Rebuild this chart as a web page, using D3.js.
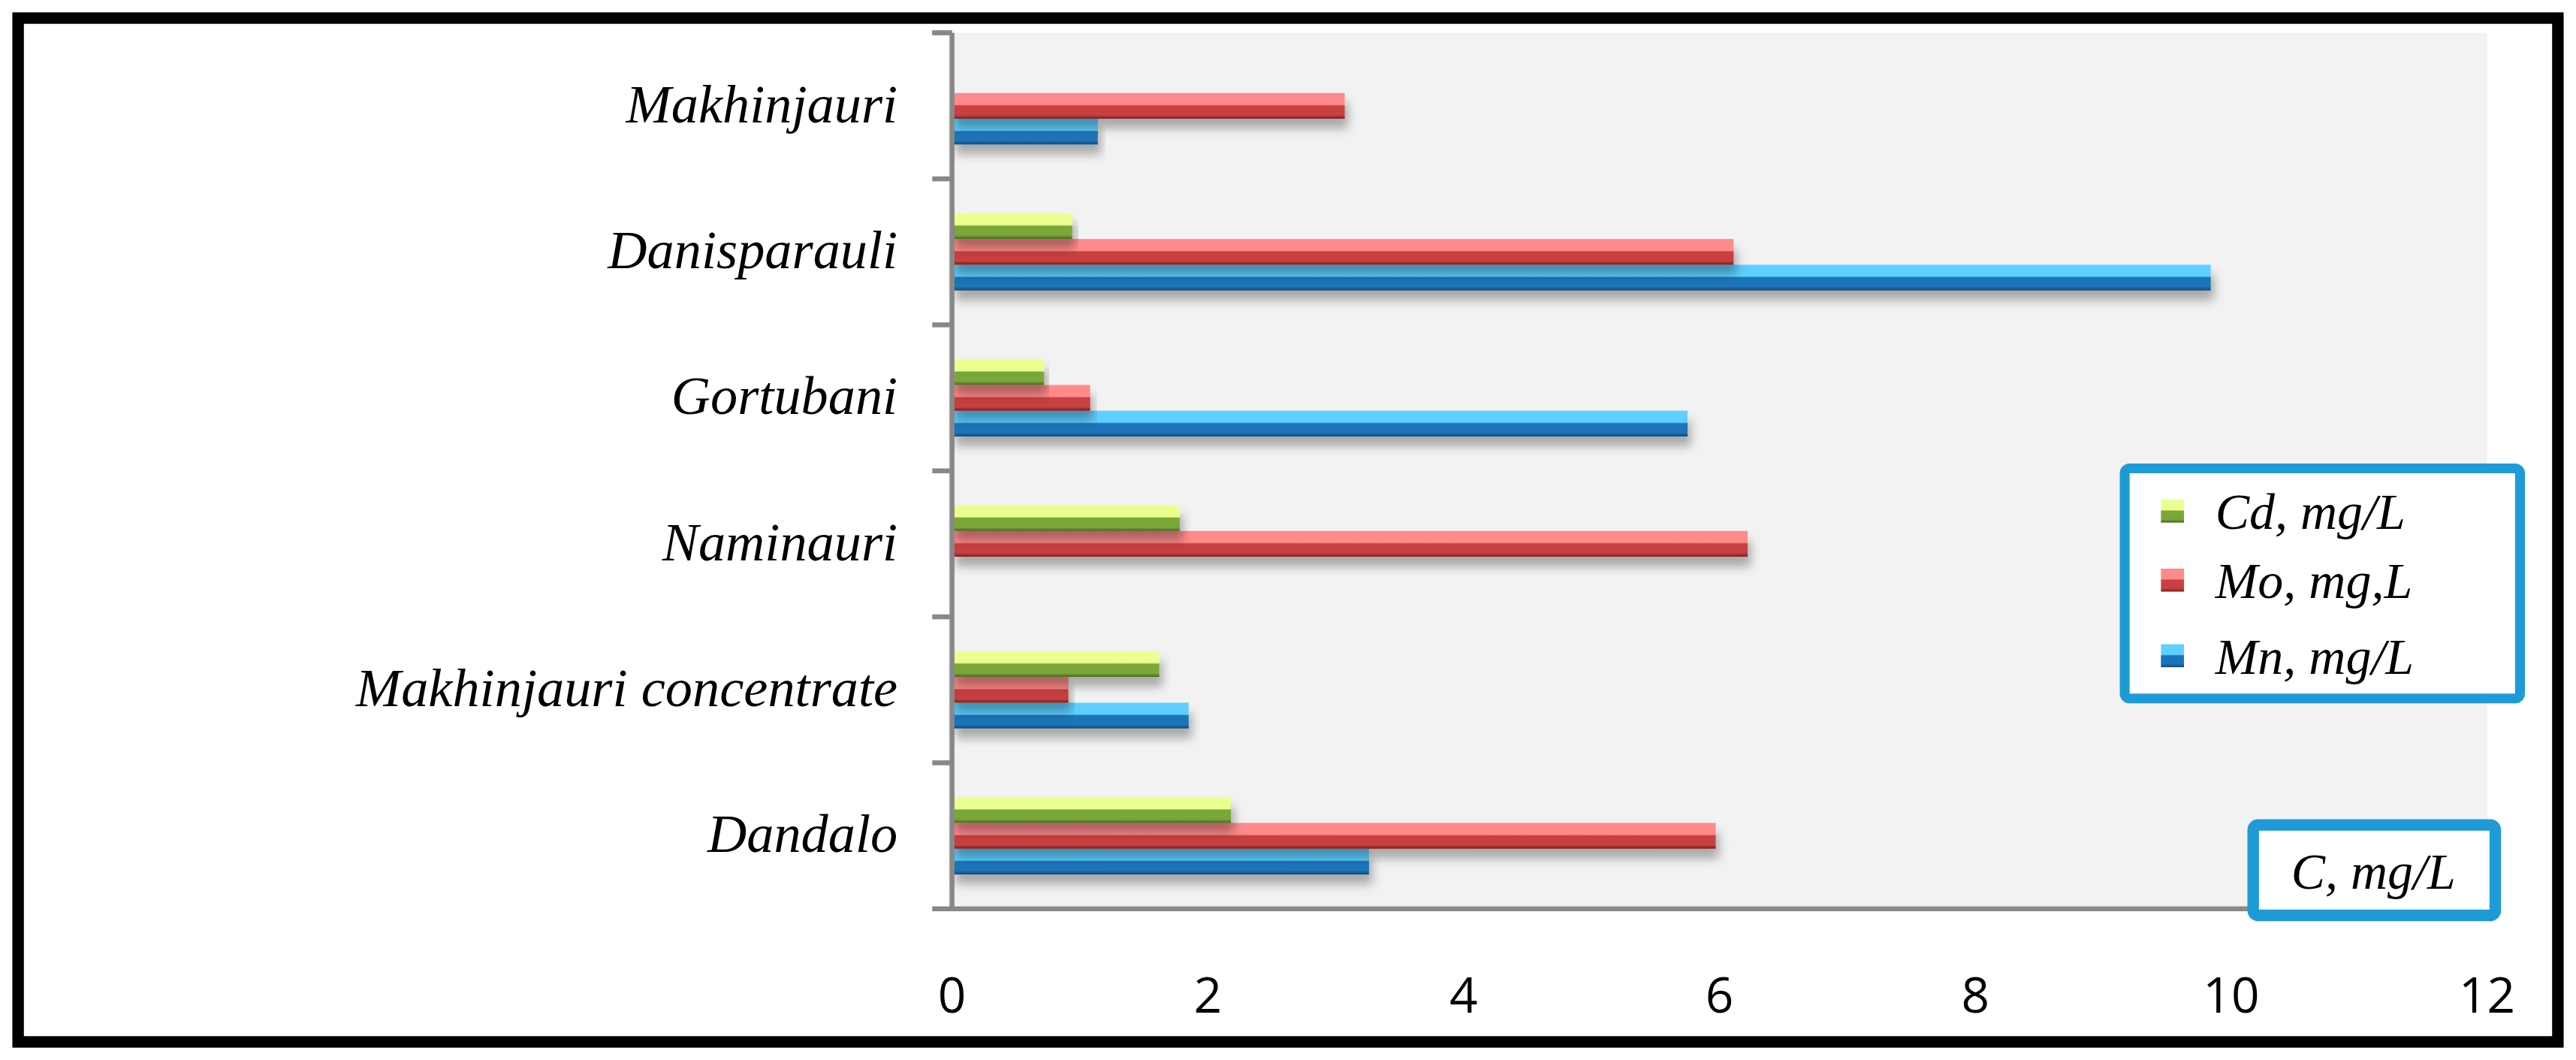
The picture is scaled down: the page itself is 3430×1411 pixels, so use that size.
<!DOCTYPE html>
<html><head><meta charset="utf-8">
<script src="https://cdn.jsdelivr.net/npm/d3@7"></script>
<style>html,body{margin:0;padding:0;background:#fff;overflow:hidden}</style>
</head><body>
<script>
const categories = ["Dandalo","Makhinjauri concentrate","Naminauri","Gortubani","Danisparauli","Makhinjauri"];
const seriesNames = ["Mn,  mg/L","Mo,  mg,L","Cd, mg/L"];
const mnValues = [3.26, 1.85, 0, 5.75, 9.84, 1.14];
const moValues = [5.97, 0.91, 6.22, 1.08, 6.11, 3.07];
const cdValues = [2.18, 1.62, 1.78, 0.72, 0.94, 0];
const xTicks = [0,2,4,6,8,10,12];
const unitLabel = "C, mg/L";

const W=1564,H=645;
const svg=d3.select("body").append("svg").attr("width",3430).attr("height",1411)
  .attr("viewBox",`0 0 ${W} ${H}`).attr("preserveAspectRatio","none");
const defs=svg.append("defs");
const pal=[["#0a5a96","#5fcfff","#1a74b8","#0d4a7a"],["#9e2a2a","#ff8a8a","#c84040","#7a1c1c"],["#5a7a28","#eaff90","#7aa838","#4a6420"]];
pal.forEach((p,i)=>{
  const g=defs.append("linearGradient").attr("id","g"+i).attr("x1",0).attr("y1",0).attr("x2",0).attr("y2",1);
  g.append("stop").attr("offset","0").attr("stop-color",p[1]);
  g.append("stop").attr("offset","0.45").attr("stop-color",p[1]);
  g.append("stop").attr("offset","0.5").attr("stop-color",p[2]);
  g.append("stop").attr("offset","0.85").attr("stop-color",p[2]);
  g.append("stop").attr("offset","1").attr("stop-color",p[3]);
});
const sh=defs.append("filter").attr("id","sh").attr("x","-5%").attr("y","-50%").attr("width","110%").attr("height","250%");
sh.append("feDropShadow").attr("dx",2).attr("dy",6).attr("stdDeviation",3).attr("flood-color","#000").attr("flood-opacity",0.3);

// outer border
svg.append("rect").attr("x",11).attr("y",11).attr("width",1542).attr("height",623).attr("fill","none").attr("stroke","#000").attr("stroke-width",7);

const x=d3.scaleLinear().domain([0,12]).range([578,1510]);
const y=d3.scaleBand().domain(categories).range([553,20]);
const inner=d3.scaleBand().domain([2,1,0]).range([0,47]);

svg.append("rect").attr("x",578).attr("y",20).attr("width",932).attr("height",533).attr("fill","#f2f2f2");

const vals=[mnValues,moValues,cdValues];
categories.forEach((c,ci)=>{
  const top=y(c)+(y.bandwidth()-47)/2;
  [0,1,2].forEach(s=>{
    const v=vals[s][ci]; if(!v) return;
    svg.append("rect").attr("x",x(0)).attr("y",top+inner(s)).attr("width",x(v)-x(0)).attr("height",inner.bandwidth())
      .attr("fill",`url(#g${s})`).attr("filter","url(#sh)");
  });
});

// y axis
svg.append("line").attr("x1",578).attr("x2",578).attr("y1",20).attr("y2",553).attr("stroke","#888").attr("stroke-width",3);
svg.append("line").attr("x1",566).attr("x2",1510).attr("y1",553).attr("y2",553).attr("stroke","#888").attr("stroke-width",3);
categories.forEach(c=>{svg.append("line").attr("x1",566).attr("x2",578).attr("y1",y(c)).attr("y2",y(c)).attr("stroke","#888").attr("stroke-width",3);});
svg.append("line").attr("x1",566).attr("x2",578).attr("y1",20).attr("y2",20).attr("stroke","#888").attr("stroke-width",3);

categories.forEach(c=>{
  svg.append("text").attr("x",545).attr("y",y(c)+y.bandwidth()/2+10).attr("text-anchor","end")
   .attr("font-family","Liberation Serif").attr("font-style","italic").attr("font-size",33).text(c);
});
xTicks.forEach(t=>{
  svg.append("text").attr("x",x(t)).attr("y",616).attr("text-anchor","middle")
   .attr("font-family","Open Sans").attr("font-size",30).text(t);
});

// legend
svg.append("rect").attr("x",1290).attr("y",285).attr("width",240).attr("height",140).attr("fill","#fff").attr("stroke","#1e9bd7").attr("stroke-width",6).attr("rx",3);
[2,1,0].forEach((s,i)=>{
  const ly=[312,354,400][i];
  svg.append("rect").attr("x",1312).attr("y",ly-8).attr("width",14).attr("height",14).attr("fill",`url(#g${s})`);
  svg.append("text").attr("x",1345).attr("y",ly+10).attr("font-family","Liberation Serif").attr("font-style","italic").attr("font-size",31).text(seriesNames[s]);
});
svg.append("rect").attr("x",1368).attr("y",502).attr("width",147).attr("height",55).attr("fill","#fff").attr("stroke","#1e9bd7").attr("stroke-width",7).attr("rx",3);
svg.append("text").attr("x",1441).attr("y",541).attr("text-anchor","middle").attr("font-family","Liberation Serif").attr("font-style","italic").attr("font-size",31).text(unitLabel);
</script>
</body></html>
